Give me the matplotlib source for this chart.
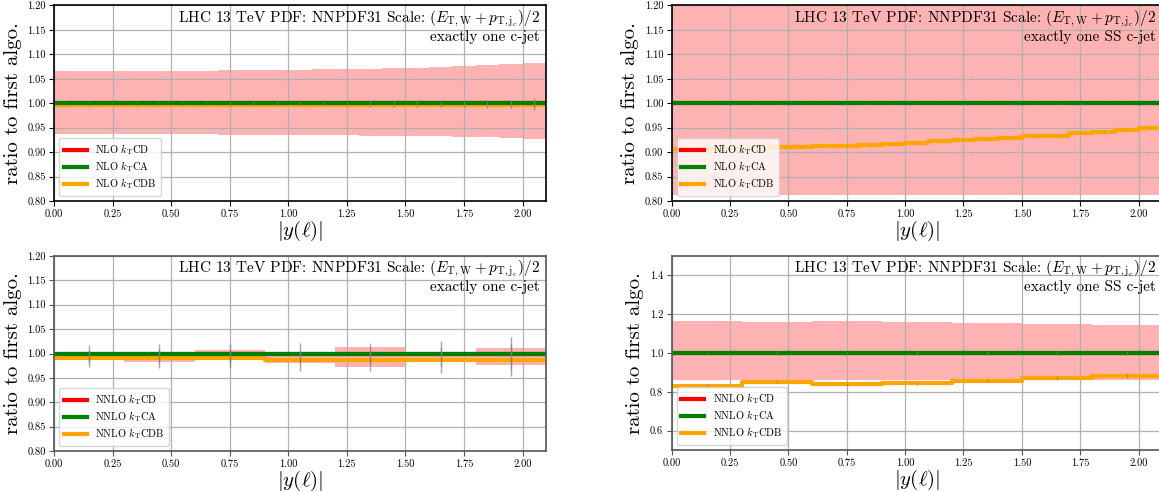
import numpy as np
import matplotlib
matplotlib.use("Agg")
import matplotlib.pyplot as plt

plt.rcParams.update({
    "font.family": "serif",
    "font.serif": ["cmr10"],
    "mathtext.fontset": "cm",
    "axes.formatter.use_mathtext": True,
    "axes.unicode_minus": False,
})

# ---------------- data ----------------
edges_nlo = [0.0, 0.1, 0.2, 0.3, 0.4, 0.5, 0.6, 0.7, 0.8, 0.9, 1.0,
             1.1, 1.2, 1.3, 1.4, 1.5, 1.6, 1.7, 1.8, 1.9, 2.0, 2.1]
edges_nnlo = [0.0, 0.3, 0.6, 0.9, 1.2, 1.5, 1.8, 2.1]

# Top-left: NLO, exactly one c-jet
nlo_one_cd = [1.000] * 21
nlo_one_ca = [1.001] * 21
nlo_one_cdb = [0.996] * 21
nlo_one_band_hi = [1.065, 1.065, 1.066, 1.066, 1.066, 1.066, 1.067, 1.069, 1.068, 1.069, 1.068,
                   1.070, 1.071, 1.071, 1.072, 1.073, 1.075, 1.077, 1.078, 1.080, 1.083]
nlo_one_band_lo = [0.938, 0.938, 0.938, 0.938, 0.938, 0.938, 0.937, 0.936, 0.936, 0.936, 0.936,
                   0.935, 0.935, 0.934, 0.934, 0.933, 0.932, 0.931, 0.930, 0.929, 0.927]
nlo_one_err = [0.001, 0.001, 0.001, 0.001, 0.001, 0.001, 0.001, 0.002, 0.002, 0.002, 0.002,
               0.002, 0.002, 0.003, 0.003, 0.003, 0.004, 0.004, 0.005, 0.006, 0.009]

# Top-right: NLO, exactly one SS c-jet
nlo_ss_cd = [1.000] * 21
nlo_ss_ca = [1.000] * 21
nlo_ss_cdb = [0.906, 0.907, 0.908, 0.909, 0.910, 0.911, 0.912, 0.913, 0.914, 0.916, 0.919,
              0.922, 0.924, 0.927, 0.929, 0.932, 0.934, 0.939, 0.942, 0.945, 0.950]
nlo_ss_band_hi = [1.230] * 21
nlo_ss_band_lo = [0.812] * 21
nlo_ss_err = [0.001] * 21

# Bottom-left: NNLO, exactly one c-jet
nnlo_one_cd = [1.000, 1.000, 1.000, 1.000, 1.000, 1.000, 1.000]
nnlo_one_ca = [1.000, 1.000, 1.000, 1.000, 1.000, 1.000, 1.000]
nnlo_one_cdb = [0.990, 0.990, 0.990, 0.986, 0.987, 0.987, 0.986]
nnlo_one_band_hi = [1.003, 1.003, 1.007, 1.002, 1.013, 1.003, 1.011]
nnlo_one_band_lo = [0.993, 0.982, 0.990, 0.981, 0.973, 0.986, 0.977]
nnlo_one_err = [0.017, 0.019, 0.020, 0.021, 0.022, 0.026, 0.033]

# Bottom-right: NNLO, exactly one SS c-jet
nnlo_ss_cd = [1.000, 1.000, 1.000, 1.000, 1.000, 1.000, 1.000]
nnlo_ss_ca = [1.000, 1.000, 1.000, 1.000, 1.000, 1.000, 1.000]
nnlo_ss_cdb = [0.832, 0.853, 0.838, 0.845, 0.858, 0.869, 0.882]
nnlo_ss_band_hi = [1.165, 1.161, 1.165, 1.160, 1.156, 1.151, 1.144]
nnlo_ss_band_lo = [0.860, 0.859, 0.859, 0.859, 0.860, 0.860, 0.860]
nnlo_ss_err = [0.006, 0.008, 0.007, 0.008, 0.009, 0.010, 0.012]

x_ticks = [0.0, 0.25, 0.5, 0.75, 1.0, 1.25, 1.5, 1.75, 2.0]
y_ticks_fine = [0.80, 0.85, 0.90, 0.95, 1.00, 1.05, 1.10, 1.15, 1.20]
y_ticks_coarse = [0.6, 0.8, 1.0, 1.2, 1.4]

title_main = r"LHC 13 TeV PDF: NNPDF31 Scale: $(E_{\rm T,W}+p_{\rm T,j_c})/2$"
sel_one = "exactly one c-jet"
sel_ss = "exactly one SS c-jet"

# ---------------- figure ----------------
W, H = 1159, 492
fig = plt.figure(figsize=(W / 100, H / 100), dpi=100)


def px_axes(x0, x1, ytop, ybot):
    return fig.add_axes([x0 / W, 1 - ybot / H, (x1 - x0) / W, (ybot - ytop) / H])


def step_xy(edges, vals):
    return edges, list(vals) + [vals[-1]]


def panel(ax, edges, cd, ca, cdb, hi, lo, err, order, ylim, yticks, sel, spine_col):
    ax.fill_between(edges, list(lo) + [lo[-1]], list(hi) + [hi[-1]], step="post",
                    color="red", alpha=0.3, linewidth=0, zorder=1)
    centers = [(edges[i] + edges[i + 1]) / 2 for i in range(len(edges) - 1)]
    ax.errorbar(centers, ca, yerr=err, fmt="none", ecolor="gray", elinewidth=1.0,
                alpha=0.7, zorder=2.5)
    ax.errorbar(centers, cdb, yerr=err, fmt="none", ecolor="gray", elinewidth=1.0,
                alpha=0.7, zorder=2.5)
    x, y = step_xy(edges, cd)
    ax.plot(x, y, drawstyle="steps-post", color="red", lw=3.0,
            label=order + r" $k_{\rm T}$CD", zorder=2)
    x, y = step_xy(edges, ca)
    ax.plot(x, y, drawstyle="steps-post", color="green", lw=3.0,
            label=order + r" $k_{\rm T}$CA", zorder=2.2)
    x, y = step_xy(edges, cdb)
    ax.plot(x, y, drawstyle="steps-post", color="orange", lw=3.0,
            label=order + r" $k_{\rm T}$CDB", zorder=2.1)
    ax.set_xlim(0, 2.1)
    ax.set_ylim(*ylim)
    ax.set_xticks(x_ticks)
    ax.set_xticklabels(["%.2f" % v for v in x_ticks])
    ax.set_yticks(yticks)
    fmt = "%.2f" if len(yticks) > 6 else "%.1f"
    ax.set_yticklabels([fmt % v for v in yticks])
    ax.grid(True, color="#b0b0b0", lw=0.9)
    ax.tick_params(labelsize=7.5, length=3.5, width=0.8, pad=2.5, color=spine_col)
    for s in ax.spines.values():
        s.set_color(spine_col)
        s.set_linewidth(1.2)
    ax.set_xlabel(r"$|y(\ell)|$", fontsize=15, labelpad=0)
    ax.set_ylabel("ratio to first algo.", fontsize=15, labelpad=4)
    ax.text(0.988, 0.985, title_main, transform=ax.transAxes, ha="right", va="top",
            fontsize=11)
    ax.text(0.988, 0.875, sel, transform=ax.transAxes, ha="right", va="top",
            fontsize=11)
    leg = ax.legend(loc="lower left", fontsize=7.5, handlelength=2.2,
                    borderpad=0.45, labelspacing=0.2, framealpha=0.8)
    for line in leg.get_lines():
        line.set_linewidth(3.0)


ax1 = px_axes(54, 546, 5.5, 201)
panel(ax1, edges_nlo, nlo_one_cd, nlo_one_ca, nlo_one_cdb, nlo_one_band_hi,
      nlo_one_band_lo, nlo_one_err, "NLO", (0.8, 1.2), y_ticks_fine, sel_one, "black")

ax2 = px_axes(671.5, 1162, 5.5, 201)
panel(ax2, edges_nlo, nlo_ss_cd, nlo_ss_ca, nlo_ss_cdb, nlo_ss_band_hi,
      nlo_ss_band_lo, nlo_ss_err, "NLO", (0.8, 1.2), y_ticks_fine, sel_ss, "black")

ax3 = px_axes(54, 546, 256, 451)
panel(ax3, edges_nnlo, nnlo_one_cd, nnlo_one_ca, nnlo_one_cdb, nnlo_one_band_hi,
      nnlo_one_band_lo, nnlo_one_err, "NNLO", (0.8, 1.2), y_ticks_fine, sel_one, "#555555")

ax4 = px_axes(671.5, 1162, 256, 450)
panel(ax4, edges_nnlo, nnlo_ss_cd, nnlo_ss_ca, nnlo_ss_cdb, nnlo_ss_band_hi,
      nnlo_ss_band_lo, nnlo_ss_err, "NNLO", (0.5, 1.5), y_ticks_coarse, sel_ss, "#555555")

fig.savefig("out.png", dpi=100)
